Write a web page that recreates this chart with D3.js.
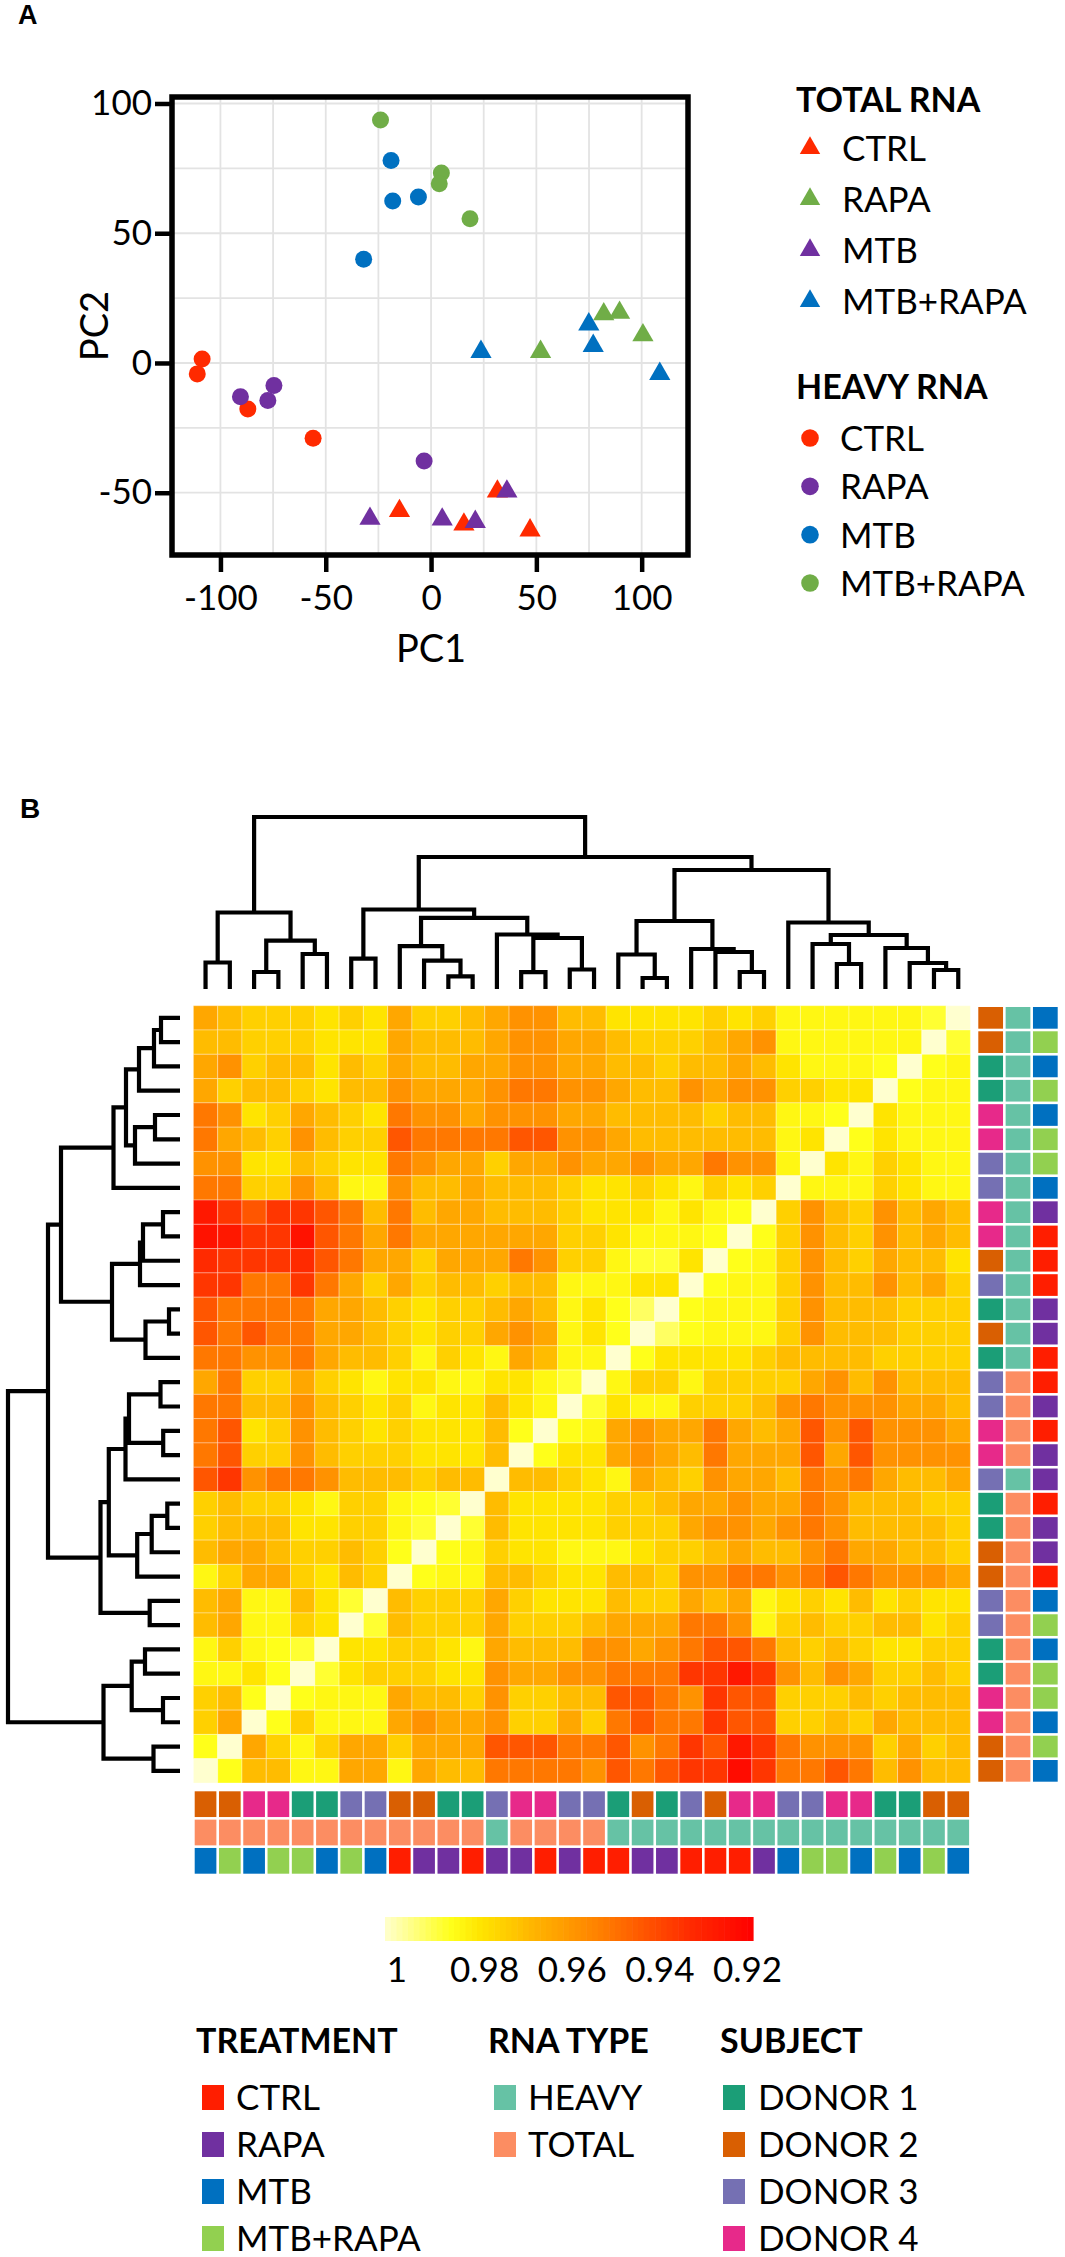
<!DOCTYPE html>
<html><head><meta charset="utf-8">
<script src="https://cdn.jsdelivr.net/npm/d3@7"></script>
<style>
body{margin:0;background:#fff}
svg{display:block}
text{font-family:Lato,"Open Sans",sans-serif;fill:#000}
</style>
</head><body>
<svg id="c" width="1065" height="2257"></svg>
<script>
// ---------------- PANEL A DATA ----------------
const pcaXTicks = [-100, -50, 0, 50, 100];
const pcaYTicks = [-50, 0, 50, 100];
const pcaGrid = [-100, -75, -50, -25, 0, 25, 50, 75, 100];

const totalNames = ["CTRL", "RAPA", "MTB", "MTB+RAPA"];
const totalColors = ["#FF2A00", "#70AD47", "#7030A0", "#0070C0"];
const heavyNames = ["CTRL", "RAPA", "MTB", "MTB+RAPA"];
const heavyColors = ["#FF2A00", "#7030A0", "#0070C0", "#70AD47"];

// [PC1, PC2]
const totalCTRL    = [[-15, -57], [15.6, -62.2], [31.5, -49.5], [47, -64.5]];
const totalRAPA    = [[52, 4.3], [82, 18.8], [89.5, 19.4], [100.6, 10.7]];
const totalMTB     = [[-29, -60], [5.3, -60.3], [21, -61.2], [36, -49.5]];
const totalMTBRAPA = [[23.7, 4.3], [74.9, 14.9], [77, 6.6], [108.6, -4.2]];
const heavyCTRL    = [[-108.7, 1.5], [-111, -4.2], [-87, -17.7], [-56, -29]];
const heavyRAPA    = [[-90.5, -13], [-74.6, -8.7], [-77.5, -14.5], [-3.3, -37.8]];
const heavyMTB     = [[-32, 40], [-19, 78], [-18.2, 62.4], [-6, 64]];
const heavyMTBRAPA = [[-24, 93.6], [4.9, 73.2], [3.9, 69.1], [18.5, 55.6]];

// ---------------- PANEL B DATA ----------------
// samples in row order (top to bottom); columns are the reverse order
const sampleDonor = [2,2,1,1,4,4,3,3,4,4,2,3,1,2,1,3,3,4,4,3,1,1,2,2,3,3,1,1,4,4,2,2];
const sampleRNA   = ["H","H","H","H","H","H","H","H","H","H","H","H","H","H","H","T","T","T","T","H","T","T","T","T","T","T","T","T","T","T","T","T"];
const sampleTrt   = ["MTB","MTB+RAPA","MTB","MTB+RAPA","MTB","MTB+RAPA","MTB+RAPA","MTB","RAPA","CTRL","CTRL","CTRL","RAPA","RAPA","CTRL","CTRL","RAPA","CTRL","RAPA","RAPA","CTRL","RAPA","RAPA","CTRL","MTB","MTB+RAPA","MTB","MTB+RAPA","MTB+RAPA","MTB","MTB+RAPA","MTB"];

// correlation matrix, rows top->bottom, columns left->right
const corr = [
[.962,.968,.973,.973,.973,.978,.973,.978,.962,.973,.973,.968,.962,.956,.956,.968,.968,.978,.978,.978,.978,.973,.978,.973,.983,.983,.983,.983,.983,.983,.987,1],
[.968,.968,.973,.973,.973,.978,.978,.978,.962,.968,.968,.968,.962,.956,.956,.962,.962,.968,.973,.973,.973,.968,.962,.956,.983,.983,.983,.983,.983,.983,1,.987],
[.962,.956,.973,.968,.968,.978,.968,.973,.962,.968,.968,.962,.962,.956,.956,.962,.962,.968,.968,.973,.968,.968,.962,.968,.978,.983,.983,.983,.985,1,.985,.983],
[.962,.973,.968,.968,.973,.978,.968,.968,.956,.962,.962,.962,.956,.949,.949,.956,.956,.962,.968,.968,.956,.962,.956,.956,.973,.973,.978,.978,1,.985,.983,.983],
[.949,.956,.978,.973,.962,.968,.973,.978,.949,.956,.956,.962,.956,.956,.956,.962,.962,.968,.968,.968,.968,.973,.968,.968,.983,.983,.985,1,.978,.983,.983,.983],
[.949,.962,.968,.973,.956,.968,.973,.973,.941,.949,.949,.949,.949,.941,.941,.956,.956,.962,.968,.968,.968,.968,.968,.968,.983,.978,1,.985,.978,.983,.983,.983],
[.956,.956,.978,.978,.968,.973,.978,.978,.949,.956,.962,.962,.973,.962,.962,.956,.962,.962,.956,.962,.962,.949,.956,.956,.983,1,.978,.983,.973,.978,.983,.983],
[.949,.949,.973,.973,.956,.968,.983,.983,.956,.968,.968,.962,.968,.968,.968,.973,.978,.978,.973,.978,.983,.973,.978,.973,1,.983,.983,.983,.973,.978,.983,.983],
[.924,.933,.941,.933,.933,.941,.949,.968,.949,.968,.962,.962,.968,.968,.968,.973,.978,.978,.978,.983,.978,.983,.985,1,.973,.956,.968,.973,.956,.968,.962,.968],
[.922,.924,.933,.933,.922,.941,.949,.962,.949,.962,.962,.962,.962,.962,.962,.973,.973,.978,.983,.983,.983,.985,1,.985,.973,.956,.968,.973,.956,.968,.962,.968],
[.930,.933,.933,.933,.930,.941,.949,.962,.962,.973,.962,.962,.962,.949,.956,.973,.973,.983,.987,.987,.978,1,.985,.983,.973,.956,.968,.973,.962,.968,.968,.978],
[.933,.933,.949,.949,.933,.949,.962,.973,.962,.973,.968,.968,.973,.968,.968,.983,.983,.983,.978,.978,1,.985,.983,.983,.973,.956,.968,.968,.956,.968,.962,.973],
[.941,.949,.949,.949,.949,.962,.962,.968,.973,.978,.973,.973,.968,.962,.968,.983,.978,.985,.991,1,.985,.983,.983,.983,.973,.956,.968,.968,.968,.973,.973,.973],
[.941,.949,.941,.949,.949,.962,.962,.968,.973,.978,.973,.973,.962,.956,.962,.983,.978,.985,1,.991,.985,.983,.983,.983,.973,.956,.968,.968,.968,.973,.973,.973],
[.949,.949,.956,.956,.949,.962,.968,.968,.973,.983,.973,.978,.983,.962,.968,.983,.983,1,.985,.978,.978,.978,.978,.973,.968,.968,.968,.968,.973,.973,.973,.973],
[.962,.949,.973,.973,.962,.973,.978,.983,.978,.978,.983,.983,.978,.978,.983,.987,1,.983,.973,.973,.983,.973,.973,.973,.973,.962,.956,.968,.956,.968,.968,.968],
[.949,.949,.968,.968,.956,.968,.973,.978,.973,.983,.978,.978,.968,.978,.983,1,.987,.978,.983,.983,.973,.973,.973,.968,.956,.949,.956,.956,.956,.962,.962,.968],
[.949,.941,.978,.973,.956,.968,.973,.978,.973,.978,.978,.978,.968,.985,1,.985,.983,.962,.956,.962,.962,.949,.962,.968,.962,.941,.956,.941,.956,.956,.956,.962],
[.949,.941,.973,.973,.956,.968,.973,.973,.973,.978,.978,.978,.968,1,.985,.978,.978,.962,.956,.962,.968,.949,.962,.962,.962,.941,.962,.941,.956,.956,.956,.956],
[.941,.933,.956,.949,.949,.956,.968,.968,.968,.973,.968,.968,1,.968,.968,.973,.978,.983,.962,.968,.973,.956,.962,.962,.968,.949,.956,.949,.962,.968,.968,.962],
[.973,.968,.973,.973,.978,.983,.973,.973,.983,.985,.987,1,.968,.978,.978,.978,.978,.973,.973,.968,.962,.962,.956,.962,.962,.949,.956,.968,.968,.968,.973,.973],
[.973,.968,.968,.968,.978,.978,.973,.973,.983,.987,1,.987,.968,.978,.978,.978,.978,.973,.973,.973,.962,.956,.956,.962,.956,.949,.956,.968,.968,.968,.968,.973],
[.968,.962,.962,.968,.973,.973,.968,.973,.985,1,.985,.983,.973,.978,.978,.983,.983,.983,.978,.973,.973,.968,.962,.968,.968,.956,.949,.962,.962,.968,.968,.973],
[.983,.973,.962,.962,.973,.978,.968,.973,1,.985,.983,.983,.968,.968,.973,.978,.978,.968,.968,.973,.956,.956,.949,.949,.956,.949,.941,.949,.956,.956,.956,.962],
[.968,.962,.983,.983,.968,.978,.987,1,.968,.973,.973,.973,.962,.973,.978,.978,.978,.968,.973,.973,.962,.968,.962,.983,.978,.973,.978,.968,.978,.973,.978,.978],
[.968,.962,.983,.983,.973,.978,1,.987,.968,.973,.973,.973,.962,.973,.973,.973,.968,.962,.962,.962,.949,.949,.956,.983,.973,.968,.973,.973,.968,.968,.978,.973],
[.983,.973,.983,.985,.987,1,.978,.978,.973,.973,.978,.983,.962,.968,.968,.968,.956,.956,.962,.956,.949,.941,.941,.949,.968,.973,.968,.973,.978,.978,.973,.973],
[.983,.983,.978,.985,1,.987,.978,.973,.973,.973,.978,.978,.956,.962,.962,.956,.956,.949,.949,.949,.933,.933,.924,.933,.956,.968,.956,.962,.973,.973,.968,.973],
[.973,.968,.985,1,.985,.983,.983,.983,.962,.968,.968,.973,.956,.973,.973,.968,.968,.941,.941,.949,.956,.933,.941,.941,.973,.973,.973,.968,.973,.968,.968,.968],
[.973,.962,1,.985,.973,.983,.983,.983,.962,.956,.962,.962,.956,.973,.973,.962,.973,.949,.941,.949,.949,.933,.941,.941,.973,.973,.968,.973,.962,.968,.968,.968],
[.985,1,.962,.973,.983,.973,.962,.962,.973,.962,.962,.962,.941,.941,.941,.949,.949,.941,.956,.949,.933,.941,.924,.933,.949,.956,.956,.956,.973,.962,.973,.968],
[1,.985,.968,.968,.983,.983,.962,.962,.983,.962,.968,.968,.949,.949,.949,.949,.956,.941,.949,.941,.933,.933,.920,.933,.949,.949,.941,.949,.968,.956,.968,.968]
];

// hierarchical clustering merges (negative = leaf row number, positive = earlier merge), height
const merges = [
[-1,-2,19],[1,-3,26],[2,-4,41],[-5,-6,25],[4,-7,45],[3,5,54],[6,-8,66.5],
[-9,-10,17],[8,-11,37],[9,-12,40],[-13,-14,11],[11,-15,34.5],[10,12,68],[7,13,119],
[-16,-17,19.5],[-18,-19,16.8],[15,16,51],[17,-20,54.5],[-21,-22,12.7],[19,-23,28.3],[20,-24,42.8],
[18,21,71.2],[-25,-26,30.3],[22,23,79.5],[14,24,132],
[-27,-28,35],[-29,-30,17],[26,27,48.3],[-31,-32,26.5],[28,29,76.5],[25,30,172]
];

const heatStops  = [1.000, 0.985, 0.978, 0.972, 0.966, 0.960, 0.950, 0.940, 0.930, 0.916];
const heatColors = ["#FFFFCF","#FFFF1A","#FFE400","#FFCC00","#FFB400","#FFA000","#FF7C00","#FF5200","#FF2A00","#FF0000"];
const cbTicks = [1, 0.98, 0.96, 0.94, 0.92];
const cbLabels = ["1", "0.98", "0.96", "0.94", "0.92"];

const trtNames = ["CTRL", "RAPA", "MTB", "MTB+RAPA"];
const trtColors = ["#FF1E00", "#7030A0", "#0070C0", "#92D050"];
const rnaNames = ["HEAVY", "TOTAL"];
const rnaKeys = ["H", "T"];
const rnaColors = ["#66C2A5", "#FC8D62"];
const donorNames = ["DONOR 1", "DONOR 2", "DONOR 3", "DONOR 4"];
const donorColors = ["#1B9E77", "#D95F02", "#7570B3", "#E7298A"];

// ---------------- DRAW ----------------
const svg = d3.select("#c");
svg.append("rect").attr("width", 1065).attr("height", 2257).attr("fill", "#fff");

// panel labels
svg.append("text").attr("x", 18).attr("y", 24).text("A")
  .style("font-family", "'Liberation Sans',Arial,sans-serif").style("font-weight", "bold").style("font-size", "27px");
svg.append("text").attr("x", 20).attr("y", 818).text("B")
  .style("font-family", "'Liberation Sans',Arial,sans-serif").style("font-weight", "bold").style("font-size", "28px");

// ---- PCA ----
const px = d3.scaleLinear().domain([-123, 122]).range([172, 688]);
const py = d3.scaleLinear().domain([-74, 102.5]).range([555, 97]);
const gA = svg.append("g");
gA.selectAll(".gx").data(pcaGrid).join("line")
  .attr("x1", d => px(d)).attr("x2", d => px(d)).attr("y1", 97).attr("y2", 555)
  .attr("stroke", "#e3e3e3").attr("stroke-width", 1.8);
gA.selectAll(".gy").data(pcaGrid.filter(d => d >= -74 && d <= 102.5)).join("line")
  .attr("y1", d => py(d)).attr("y2", d => py(d)).attr("x1", 172).attr("x2", 688)
  .attr("stroke", "#e3e3e3").attr("stroke-width", 1.8);

const heavySets = [heavyCTRL, heavyRAPA, heavyMTB, heavyMTBRAPA];
const totalSets = [totalCTRL, totalRAPA, totalMTB, totalMTBRAPA];
const tri = d3.symbol(d3.symbolTriangle, 195);
heavySets.forEach((pts, i) => {
  gA.selectAll(null).data(pts).join("circle")
    .attr("cx", d => px(d[0])).attr("cy", d => py(d[1])).attr("r", 8.5)
    .attr("fill", heavyColors[i]);
});
totalSets.forEach((pts, i) => {
  gA.selectAll(null).data(pts).join("path")
    .attr("d", tri).attr("transform", d => `translate(${px(d[0])},${py(d[1])})`)
    .attr("fill", totalColors[i]);
});
gA.append("rect").attr("x", 172).attr("y", 97).attr("width", 516).attr("height", 458)
  .attr("fill", "none").attr("stroke", "#000").attr("stroke-width", 5.5);

const xAx = gA.append("g").attr("transform", "translate(0,557)")
  .call(d3.axisBottom(px).tickValues(pcaXTicks).tickSize(15).tickPadding(13).tickFormat(d3.format("d")));
const yAx = gA.append("g").attr("transform", "translate(170,0)")
  .call(d3.axisLeft(py).tickValues(pcaYTicks).tickSize(15).tickPadding(3).tickFormat(d3.format("d")));
[xAx, yAx].forEach(a => {
  a.select(".domain").remove();
  a.selectAll(".tick line").attr("stroke", "#000").attr("stroke-width", 4.5);
  a.selectAll(".tick text").style("font-family", "Lato,sans-serif").style("font-size", "35px").attr("fill", "#000");
});
xAx.selectAll(".tick text").text(d => d < 0 ? "-" + Math.abs(d) : d);
yAx.selectAll(".tick text").text(d => d < 0 ? "-" + Math.abs(d) : d);

gA.append("text").attr("x", 431).attr("y", 662).attr("text-anchor", "middle")
  .style("font-size", "38px").text("PC1");
gA.append("text").attr("transform", "translate(108,326) rotate(-90)").attr("text-anchor", "middle")
  .style("font-size", "38px").text("PC2");

// PCA legend
const legA = svg.append("g");
legA.append("text").attr("x", 796).attr("y", 112).style("font-weight", "bold").style("font-size", "34px").text("TOTAL RNA");
const legTotY = d3.scaleLinear().domain([0, 3]).range([148, 301]);
totalNames.forEach((n, i) => {
  legA.append("path").attr("d", d3.symbol(d3.symbolTriangle, 180))
    .attr("transform", `translate(810,${legTotY(i)})`).attr("fill", totalColors[i]);
  legA.append("text").attr("x", 842).attr("y", legTotY(i) + 13).style("font-size", "35px").text(n);
});
legA.append("text").attr("x", 796).attr("y", 399).style("font-weight", "bold").style("font-size", "34px").text("HEAVY RNA");
const legHeavyY = d3.scaleLinear().domain([0, 3]).range([438, 583]);
heavyNames.forEach((n, i) => {
  legA.append("circle").attr("cx", 810).attr("cy", legHeavyY(i)).attr("r", 8.8).attr("fill", heavyColors[i]);
  legA.append("text").attr("x", 840).attr("y", legHeavyY(i) + 13).style("font-size", "35px").text(n);
});

// ---- HEATMAP ----
const N = corr.length;
const idx = d3.range(N);
const rowY = d3.scaleBand().domain(idx).range([1005.7, 1783]);
const colX = d3.scaleBand().domain(idx).range([193.4, 970.4]);
const heat = d3.scaleLinear().domain(heatStops).range(heatColors).interpolate(d3.interpolateRgb).clamp(true);

const gH = svg.append("g");
corr.forEach((row, r) => {
  gH.selectAll(null).data(row).join("rect")
    .attr("x", (v, c) => colX(c)).attr("y", rowY(r))
    .attr("width", colX.bandwidth()).attr("height", rowY.bandwidth())
    .attr("fill", v => heat(v))
    .attr("stroke", "rgba(255,255,255,0.32)").attr("stroke-width", 1);
});

// annotations
const trtC = d3.scaleOrdinal().domain(trtNames).range(trtColors);
const rnaC = d3.scaleOrdinal().domain(rnaKeys).range(rnaColors);
const donC = d3.scaleOrdinal().domain([1, 2, 3, 4]).range(donorColors);
const annKeys = ["donor", "rna", "trt"];
const annColor = (k, s) => k === "donor" ? donC(sampleDonor[s]) : k === "rna" ? rnaC(sampleRNA[s]) : trtC(sampleTrt[s]);
const annX = d3.scaleBand().domain(annKeys).range([977, 1059]);
const annY = d3.scaleBand().domain(annKeys).range([1790, 1875]);
const gap = 1.3;
annKeys.forEach(k => {
  gH.selectAll(null).data(idx).join("rect")
    .attr("x", annX(k) + gap).attr("y", s => rowY(s) + gap)
    .attr("width", annX.bandwidth() - 2 * gap).attr("height", rowY.bandwidth() - 2 * gap)
    .attr("fill", s => annColor(k, s));
  gH.selectAll(null).data(idx).join("rect")
    .attr("x", c => colX(c) + gap).attr("y", annY(k) + gap)
    .attr("width", colX.bandwidth() - 2 * gap).attr("height", annY.bandwidth() - 2 * gap)
    .attr("fill", c => annColor(k, N - 1 - c));
});

// dendrograms
function build(i) {
  if (i < 0) return { leaf: -i - 1, h: 0 };
  const m = merges[i - 1];
  return { h: m[2], kids: [build(m[0]), build(m[1])] };
}
const tree = build(merges.length);
(function setPos(n) {
  if (n.kids) { n.kids.forEach(setPos); n.pos = d3.mean(n.kids, k => k.pos); }
  else n.pos = n.leaf;
})(tree);
const inner = [];
(function walk(n) { if (n.kids) { inner.push(n); n.kids.forEach(walk); } })(tree);

const rowC = p => rowY(0) + rowY.bandwidth() / 2 + p * rowY.step();
const colC = p => colX(0) + colX.bandwidth() / 2 + p * colX.step();
const hxL = d3.scaleLinear().domain([0, 172]).range([180, 8]);
const hyT = d3.scaleLinear().domain([0, 172]).range([989, 817]);
const gD = svg.append("g").attr("fill", "none").attr("stroke", "#000").attr("stroke-width", 4.2);
gD.selectAll(".dl").data(inner).join("path")
  .attr("d", n => {
    const [a, b] = n.kids;
    return `M${hxL(a.h)},${rowC(a.pos)}H${hxL(n.h)}V${rowC(b.pos)}H${hxL(b.h)}`;
  });
gD.selectAll(".dt").data(inner).join("path")
  .attr("d", n => {
    const [a, b] = n.kids;
    return `M${colC(N - 1 - a.pos)},${hyT(a.h)}V${hyT(n.h)}H${colC(N - 1 - b.pos)}V${hyT(b.h)}`;
  });

// colour bar
const cbX = d3.scaleLinear().domain([1, 0.916]).range([385, 753]);
const cbSteps = d3.range(0, 64);
const stepW = (753 - 385) / cbSteps.length;
svg.append("g").selectAll("rect").data(cbSteps).join("rect")
  .attr("x", i => 385 + i * stepW).attr("y", 1917).attr("width", stepW + 0.6).attr("height", 24)
  .attr("fill", i => heat(cbX.invert(385 + (i + 0.5) * stepW)));
svg.append("g").selectAll("text").data(cbTicks).join("text")
  .attr("x", d => cbX(d) + 12).attr("y", 1982).attr("text-anchor", "middle")
  .style("font-size", "35px").text((d, i) => cbLabels[i]);

// bottom legend
const legB = svg.append("g");
const legBY = d3.scaleLinear().domain([0, 3]).range([2110, 2251]);
const legCols = [
  { title: "TREATMENT", tx: 196, sx: 202, lx: 236, names: trtNames, colors: trtColors },
  { title: "RNA TYPE", tx: 488, sx: 494, lx: 528, names: rnaNames, colors: rnaColors },
  { title: "SUBJECT", tx: 720, sx: 723, lx: 758, names: donorNames, colors: donorColors }
];
legCols.forEach(col => {
  legB.append("text").attr("x", col.tx).attr("y", 2053).style("font-weight", "bold").style("font-size", "34px").text(col.title);
  col.names.forEach((n, i) => {
    legB.append("rect").attr("x", col.sx).attr("y", legBY(i) - 25).attr("width", 22).attr("height", 25).attr("fill", col.colors[i]);
    legB.append("text").attr("x", col.lx).attr("y", legBY(i)).style("font-size", "35px").text(n);
  });
});
</script>
</body></html>
